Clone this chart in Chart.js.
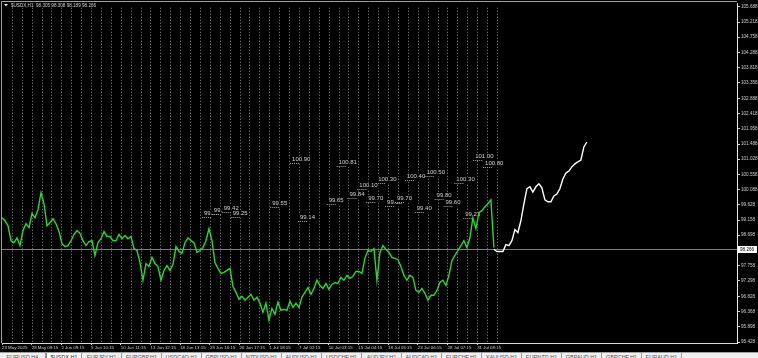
<!DOCTYPE html>
<html>
<head>
<meta charset="utf-8">
<script src="https://cdn.jsdelivr.net/npm/chart.js@4.4.0/dist/chart.umd.min.js"></script>
<style>
  html, body { margin: 0; padding: 0; background: #000; width: 758px; height: 358px; overflow: hidden; }
  #chart { display: block; }
  #tabs { position: absolute; left: 0; top: 352px; width: 758px; height: 6px; background: #f0f0f0;
          border-top: 1px solid #a0a0a0; box-sizing: border-box; overflow: hidden; white-space: nowrap;
          font: 5.5px "Liberation Sans", Arial, sans-serif; color: #555; }
  #tabs span { display: inline-block; width: 40px; height: 6px; line-height: 8px; text-align: center;
               border-right: 1px solid #9a9a9a; box-sizing: border-box; vertical-align: top; }
  #tabs span.first { width: 46px; }
  #tabs span.active { width: 36px; background: #fff; color: #222; border-left: 1px solid #888; }
</style>
</head>
<body>
<canvas id="chart" width="758" height="352"></canvas>
<div id="tabs"></div>
<script>
// chart header
const symbol = '$USDX,H1';
const ohlc = [98.305, 98.308, 98.189, 98.266];
const lastPrice = 98.266;

// time axis: one unit = one trading day, a label every 3 days
const xLabels = ['23 May 2025', '28 May 09:15', '2 Jun 09:15', '5 Jun 10:15', '10 Jun 11:15', '13 Jun 12:15',
  '18 Jun 13:15', '23 Jun 16:15', '26 Jun 17:15', '1 Jul 18:15', '7 Jul 02:15', '10 Jul 03:15',
  '15 Jul 04:15', '18 Jul 05:15', '23 Jul 06:15', '28 Jul 07:15', '31 Jul 08:15'];
const labelEveryDays = 3;
const axisDays = 74.25;

// price axis
const yTicks = [105.688, 105.218, 104.758, 104.288, 103.818, 103.358, 102.888, 102.418, 101.958, 101.488,
  101.028, 100.558, 100.088, 99.628, 99.158, 98.698, 97.758, 97.298, 96.828, 96.368, 95.898, 95.428];
const yMin = 95.40;
const yMax = 105.78;

// closes, one sample every ~7 hours
const sampleDays = 0.303;
const history = [
  99.23, 99.14, 98.99, 98.53, 98.47, 98.62, 98.38, 98.84, 99.05, 98.93,
  99.36, 99.23, 99.48, 100.00, 99.66, 98.99, 99.08, 99.20, 99.05, 98.81,
  98.44, 98.35, 98.38, 98.53, 98.72, 98.84, 98.75, 98.53, 98.38, 98.50,
  98.53, 98.08, 98.47, 98.59, 98.81, 98.66, 98.66, 98.53, 98.53, 98.72,
  98.59, 98.69, 98.59, 98.66, 98.29, 98.23, 97.86, 97.32, 97.83, 97.74,
  98.02, 97.83, 97.74, 97.32, 97.62, 97.77, 97.62, 97.80, 98.35, 98.20,
  98.14, 98.47, 98.62, 98.53, 98.47, 98.17, 98.23, 98.32, 98.53, 98.90,
  98.53, 97.86, 97.68, 97.53, 97.56, 97.62, 97.68, 97.13, 96.95, 96.74,
  96.83, 96.71, 96.80, 96.89, 96.71, 96.80, 96.62, 96.34, 96.62, 96.10,
  96.46, 96.28, 96.65, 96.40, 96.43, 96.40, 96.68, 96.49, 96.62, 96.49,
  96.80, 96.95, 97.10, 96.89, 97.07, 97.32, 97.16, 97.07, 97.22, 97.04,
  97.19, 97.25, 97.22, 97.41, 97.32, 97.47, 97.38, 97.44, 97.59, 97.59,
  97.53, 97.99, 98.23, 98.20, 98.29, 97.32, 98.17, 98.38, 98.26, 98.17,
  98.02, 97.99, 97.95, 97.74, 97.47, 97.32, 97.47, 97.41, 97.01, 96.95,
  97.07, 96.92, 96.71, 96.86, 96.86, 97.01, 97.25, 97.32, 97.16, 97.47,
  97.92, 98.08, 98.23, 98.38, 98.53, 98.32, 98.62, 99.23, 98.90, 99.39,
  99.45, 99.57, 99.66, 99.78, 98.32
];

// projected path (white), starts at the last close
const forecast = [
  98.27, 98.20, 98.20, 98.20, 98.41, 98.38, 98.53, 98.87, 98.78, 99.14,
  99.66, 100.12, 100.18, 100.02, 100.18, 100.27, 100.15, 99.78, 99.72, 99.72,
  99.90, 99.96, 100.12, 100.42, 100.60, 100.66, 100.79, 100.88, 100.94, 101.00,
  101.40, 101.55
];

// daily level marks
const levelDays = [20.4, 21.4, 22.4, 23.3, 27.3, 29.3, 30.1, 33.0, 34.0, 35.1, 36.1, 37.0,
  38.0, 38.9, 39.9, 40.9, 41.9, 42.9, 43.9, 44.8, 45.9, 46.8, 47.8, 48.8];
const levelValues = [99.26, 99.36, 99.42, 99.25, 99.55, 100.90, 99.14, 99.65, 100.81, 99.84, 100.10, 99.70,
  100.30, 99.58, 99.70, 100.40, 99.40, 100.50, 99.80, 99.60, 100.30, 99.23, 101.00, 100.80];

const tabNames = ['EURUSD,H4', '$USDX,H1', 'EURJPY,H1', 'EURGBP,H1', 'USDCAD,H1', 'GBPUSD,H1', 'NZDUSD,H1',
  'AUDUSD,H1', 'USDCHF,H1', 'AUDJPY,H1', 'AUDCAD,H1', 'EURCHF,H1', 'XAUUSD,H1', 'EURNZD,H1', 'GBPAUD,H1',
  'GBPCHF,H1', 'EURAUD,H1'];
const activeTab = 1;

const font = '"Liberation Sans", Arial, sans-serif';

const overlay = {
  id: 'overlay',
  beforeDatasetsDraw(chart) {
    const { ctx, chartArea: a, scales: { x, y } } = chart;
    ctx.save();

    // day separators up to the last close
    const lastDay = Math.ceil((history.length - 1) * sampleDays);
    ctx.strokeStyle = '#8e8e8e';
    ctx.lineWidth = 1;
    ctx.setLineDash([1, 2]);
    for (let d = 1; d <= lastDay; d++) {
      const px = Math.round(x.getPixelForValue(d)) + 0.5;
      ctx.beginPath();
      ctx.moveTo(px, a.top + 4);
      ctx.lineTo(px, a.bottom);
      ctx.stroke();
    }

    // current price line
    ctx.setLineDash([]);
    ctx.strokeStyle = '#7c7c7c';
    const py = Math.round(y.getPixelForValue(lastPrice)) + 0.5;
    ctx.beginPath();
    ctx.moveTo(a.left, py);
    ctx.lineTo(a.right, py);
    ctx.stroke();

    // level labels
    ctx.font = '6px ' + font;
    ctx.textBaseline = 'bottom';
    ctx.textAlign = 'left';
    levelDays.forEach((d, i) => {
      const txt = levelValues[i].toFixed(2);
      const lx = x.getPixelForValue(d);
      const ly = Math.round(y.getPixelForValue(levelValues[i])) + 0.5;
      const w = ctx.measureText(txt).width;
      ctx.fillStyle = '#000';
      ctx.fillRect(lx - 1, ly - 7, w + 2, 7);
      ctx.fillStyle = '#d4d4d4';
      ctx.fillText(txt, lx, ly - 1);
      ctx.strokeStyle = '#a8a8a8';
      ctx.setLineDash([1, 1]);
      ctx.beginPath();
      ctx.moveTo(x.getPixelForValue(d - 0.2), ly);
      ctx.lineTo(x.getPixelForValue(d + 0.8), ly);
      ctx.stroke();
    });
    ctx.restore();
  },
  afterDraw(chart) {
    const { ctx, chartArea: a, scales: { y } } = chart;
    ctx.save();

    // frame
    ctx.strokeStyle = '#a0a0a0';
    ctx.lineWidth = 1;
    ctx.beginPath();
    ctx.moveTo(1.5, a.bottom);
    ctx.lineTo(1.5, 1.5);
    ctx.lineTo(a.right, 1.5);
    ctx.stroke();

    // header
    ctx.fillStyle = '#e0e0e0';
    ctx.beginPath();
    ctx.moveTo(4, 4); ctx.lineTo(8, 4); ctx.lineTo(6, 6.5); ctx.closePath();
    ctx.fill();
    ctx.font = '4.6px ' + font;
    ctx.textBaseline = 'middle';
    ctx.fillStyle = '#cfcfcf';
    ctx.fillText(symbol + '  ' + ohlc.map(v => v.toFixed(3)).join(' '), 11, 5.5);

    // price tag on the axis
    const py = Math.round(y.getPixelForValue(lastPrice));
    ctx.fillStyle = '#ffffff';
    ctx.fillRect(a.right + 1, py - 3, 19, 7);
    ctx.fillStyle = '#000';
    ctx.fillText(lastPrice.toFixed(3), a.right + 3, py + 0.5);
    ctx.restore();
  }
};

new Chart(document.getElementById('chart'), {
  type: 'line',
  data: {
    datasets: [
      {
        data: history.map((v, i) => ({ x: i * sampleDays, y: v })),
        borderColor: '#2fd62f',
        borderWidth: 1.4,
        pointRadius: 0,
        tension: 0
      },
      {
        data: forecast.map((v, j) => ({ x: (history.length - 1 + j) * sampleDays, y: v })),
        borderColor: '#ffffff',
        borderWidth: 1.4,
        pointRadius: 0,
        tension: 0
      }
    ]
  },
  options: {
    responsive: false,
    animation: false,
    events: [],
    layout: { padding: { left: 2, top: 2, right: 0, bottom: 0 } },
    plugins: { legend: { display: false }, tooltip: { enabled: false } },
    scales: {
      x: {
        type: 'linear',
        min: 0,
        max: axisDays,
        afterBuildTicks: s => { s.ticks = xLabels.map((_, k) => ({ value: k * labelEveryDays })); },
        afterFit: s => { s.height = 9; },
        ticks: {
          callback: (v, i) => xLabels[i],
          align: 'start',
          maxRotation: 0,
          autoSkip: false,
          padding: 0,
          color: '#cfcfcf',
          font: { family: font, size: 4.4 }
        },
        grid: { drawOnChartArea: false, tickLength: 2, tickColor: '#cfcfcf' },
        border: { color: '#d8d8d8' }
      },
      y: {
        position: 'right',
        min: yMin,
        max: yMax,
        afterBuildTicks: s => { s.ticks = yTicks.map(v => ({ value: v })); },
        afterFit: s => { s.width = 21; },
        ticks: {
          callback: v => v.toFixed(3),
          autoSkip: false,
          padding: 1,
          crossAlign: 'near',
          color: '#cfcfcf',
          font: { family: font, size: 4.6 }
        },
        grid: { drawOnChartArea: false, tickLength: 3, tickColor: '#cfcfcf' },
        border: { color: '#e8e8e8' }
      }
    }
  },
  plugins: [overlay]
});

// symbol tabs under the chart
const tabs = document.getElementById('tabs');
tabNames.forEach((name, i) => {
  const el = document.createElement('span');
  el.textContent = name;
  if (i === 0) el.className = 'first';
  if (i === activeTab) el.className = 'active';
  tabs.appendChild(el);
});
</script>
</body>
</html>
